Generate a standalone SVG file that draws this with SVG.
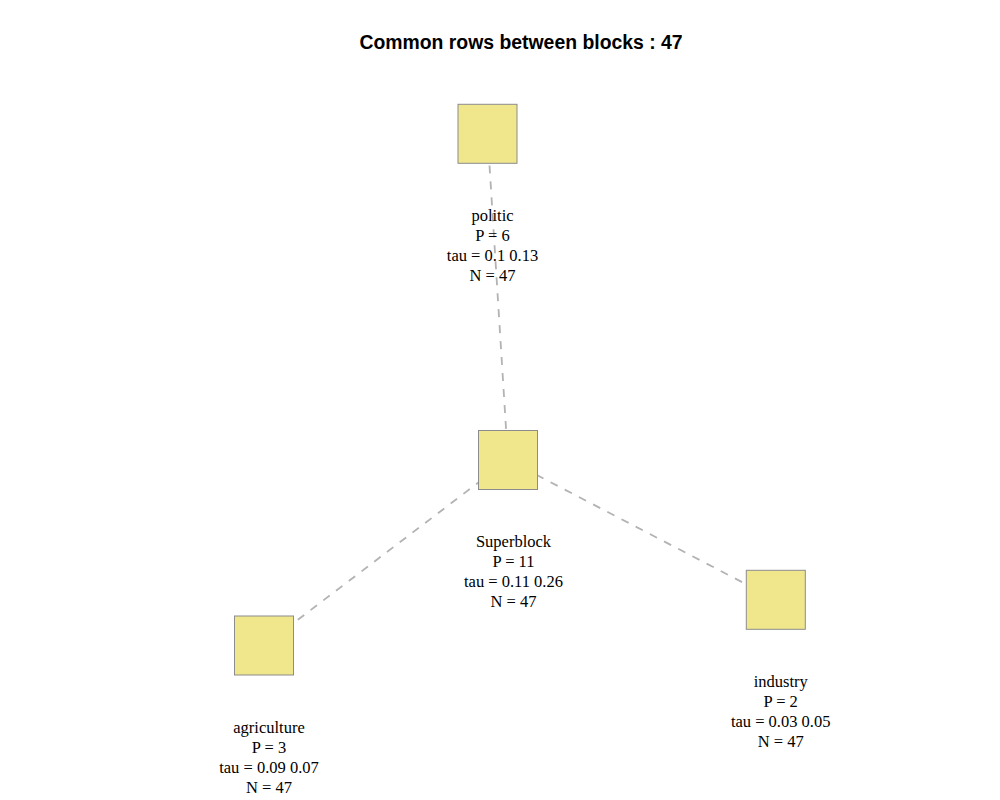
<svg xmlns="http://www.w3.org/2000/svg" width="1000" height="800" viewBox="0 0 1000 800">
<style>
.node rect{fill:#f0e68c;stroke:#8c8c8c;stroke-width:1}
.lbl{font-family:"Liberation Serif","Times New Roman",serif;font-size:16.5px;fill:#000;text-anchor:middle}
.edge{stroke:#b3b3b3;stroke-width:1.8;stroke-dasharray:8 8;fill:none}
.title{font-family:"Liberation Sans",Arial,sans-serif;font-size:19.4px;font-weight:bold;text-anchor:middle;fill:#000}
</style>
<rect width="1000" height="800" fill="#fff"/>
<text class="title" x="521" y="49">Common rows between blocks : 47</text>
<g id="connectors">
<line class="edge" x1="487.5" y1="133.5" x2="508" y2="460"/>
<line class="edge" x1="508" y1="460" x2="264" y2="645.5"/>
<line class="edge" x1="508" y1="460" x2="775.8" y2="599.7"/>
</g>
<g id="politic" class="node">
<rect x="458" y="104.3" width="59" height="59"/>
<text class="lbl" x="492.5" y="221">politic</text>
<text class="lbl" x="492.5" y="241">P = 6</text>
<text class="lbl" x="492.5" y="261">tau = 0.1 0.13</text>
<text class="lbl" x="492.5" y="281">N = 47</text>
</g>
<g id="superblock" class="node">
<rect x="478.5" y="430.5" width="59" height="59"/>
<text class="lbl" x="513.5" y="547">Superblock</text>
<text class="lbl" x="513.5" y="567">P = 11</text>
<text class="lbl" x="513.5" y="587">tau = 0.11 0.26</text>
<text class="lbl" x="513.5" y="607">N = 47</text>
</g>
<g id="agriculture" class="node">
<rect x="234.5" y="616" width="59" height="59"/>
<text class="lbl" x="269" y="733">agriculture</text>
<text class="lbl" x="269" y="753">P = 3</text>
<text class="lbl" x="269" y="773">tau = 0.09 0.07</text>
<text class="lbl" x="269" y="793">N = 47</text>
</g>
<g id="industry" class="node">
<rect x="746.3" y="570.3" width="59" height="59"/>
<text class="lbl" x="780.7" y="687">industry</text>
<text class="lbl" x="780.7" y="707">P = 2</text>
<text class="lbl" x="780.7" y="727">tau = 0.03 0.05</text>
<text class="lbl" x="780.7" y="747">N = 47</text>
</g>
</svg>
